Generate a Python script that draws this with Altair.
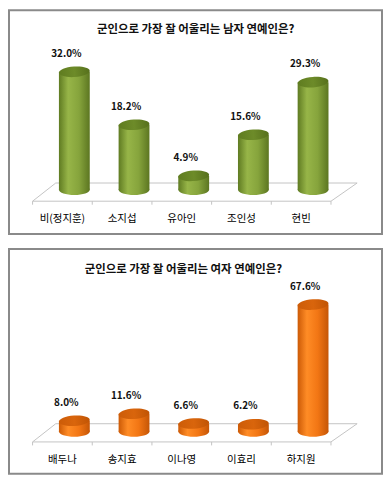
import altair as alt
import pandas as pd

# ---- data ----
male_names = ["비(정지훈)", "소지섭", "유아인", "조인성", "현빈"]
male_values = [32.0, 18.2, 4.9, 15.6, 29.3]
female_names = ["배두나", "송지효", "이나영", "이효리", "하지원"]
female_values = [8.0, 11.6, 6.6, 6.2, 67.6]
titles = ["군인으로 가장 잘 어울리는 남자 연예인은?", "군인으로 가장 잘 어울리는 여자 연예인은?"]

FONT = "Noto Sans CJK KR"
ELLIPSE = "M-1,0 A1,0.34 0 1,1 1,0 A1,0.34 0 1,1 -1,0 Z"
BAR_W = 31
BAR_SHIFT = 12
STEP = 60


def grad(stops):
    return alt.Gradient(
        gradient="linear",
        stops=[alt.GradientStop(color=c, offset=o) for o, c in stops],
        x1=0, x2=1, y1=0, y2=0,
    )


def panel(names, values, title, title_x, title_y, body, top, base_y, px_per_unit, height, shift):
    df = pd.DataFrame({"name": names, "v": values, "zero": [0] * len(values),
                       "label": [f"{v:.1f}%" for v in values]})
    ybase = base_y + shift
    xenc = alt.X("name:N", sort=names, axis=None,
                 scale=alt.Scale(type="band", range=[23.7, 23.7 + STEP * len(names)],
                                 paddingInner=0, paddingOuter=0))
    yscale = alt.Scale(domain=[0, ybase / px_per_unit], range=[ybase, 0])
    F = 194 + shift
    B = 175.7 + shift
    fl = "#c4c4c4"
    base = alt.Chart(df)
    first = base.transform_filter(alt.datum.name == names[0])
    last = base.transform_filter(alt.datum.name == names[-1])
    layers = [
        first.mark_rule(color=fl, strokeWidth=1).encode(
            x=alt.value(23.7), x2=alt.value(323.7), y=alt.value(F)),
        first.mark_rule(color=fl, strokeWidth=1).encode(
            x=alt.value(47), x2=alt.value(350), y=alt.value(B)),
        first.mark_rule(color=fl, strokeWidth=1).encode(
            x=alt.value(23.7), x2=alt.value(47), y=alt.value(F), y2=alt.value(B)),
        first.mark_rule(color=fl, strokeWidth=1).encode(
            x=alt.value(323.7), x2=alt.value(350), y=alt.value(F), y2=alt.value(B)),
        base.mark_rule(color=fl, strokeWidth=1, xOffset=-STEP / 2).encode(
            x=xenc, y=alt.value(F), y2=alt.value(F + 3.5)),
        last.mark_rule(color=fl, strokeWidth=1, xOffset=STEP / 2).encode(
            x=xenc, y=alt.value(F), y2=alt.value(F + 3.5)),
        base.mark_point(shape=ELLIPSE, size=BAR_W ** 2, filled=True, fill=grad(body),
                        strokeWidth=0, opacity=1, xOffset=BAR_SHIFT, yOffset=-5).encode(
            x=xenc, y=alt.Y("zero:Q", axis=None, scale=yscale)),
        base.mark_bar(size=BAR_W, fill=grad(body), xOffset=BAR_SHIFT, y2Offset=-5).encode(
            x=xenc, y=alt.Y("v:Q", axis=None, scale=yscale), y2="zero:Q"),
        base.mark_point(shape=ELLIPSE, size=BAR_W ** 2, filled=True, fill=grad(top),
                        strokeWidth=0, opacity=1, xOffset=BAR_SHIFT, angle=356).encode(
            x=xenc, y=alt.Y("v:Q", axis=None, scale=yscale)),
        base.mark_text(font=FONT, fontSize=10, fontWeight="bold", color="#111111",
                       dy=-18, dx=4, baseline="middle").encode(
            x=xenc, y=alt.Y("v:Q", axis=None, scale=yscale), text="label:N"),
        base.mark_text(font=FONT, fontSize=10.5, color="#000000", baseline="middle").encode(
            x=xenc, y=alt.value(212 + shift), text="name:N"),
        first.mark_text(font=FONT, fontSize=11.5, fontWeight="bold", text=title,
                        color="#111111", baseline="middle").encode(
            x=alt.value(title_x), y=alt.value(title_y + shift)),
    ]
    return alt.layer(*layers).properties(width=375, height=height)


green_body = [(0, "#5f7b22"), (0.3, "#97b548"), (0.65, "#86a43c"), (1, "#5c7621")]
green_top = [(0, "#5f7c20"), (0.5, "#6d8b29"), (1, "#56701c")]
orange_body = [(0, "#cc5a06"), (0.3, "#ff8c26"), (0.65, "#f27614"), (1, "#c55606")]
orange_top = [(0, "#cc5c08"), (0.5, "#d9650c"), (1, "#c05404")]

top_panel = panel(male_names, male_values, titles[0], 187.7, 22.3,
                  green_body, green_top, 187.4, 3.86, 225, -2)
bot_panel = panel(female_names, female_values, titles[1], 175.3, 20.7,
                  orange_body, orange_top, 188.4, 1.96, 226, 0)

chart = alt.vconcat(top_panel, bot_panel, spacing=13).properties(
    padding=0
).configure_view(stroke="#8a8a8a", strokeWidth=2)

chart.save("out.html", embed_options={"renderer": "svg", "actions": False})
